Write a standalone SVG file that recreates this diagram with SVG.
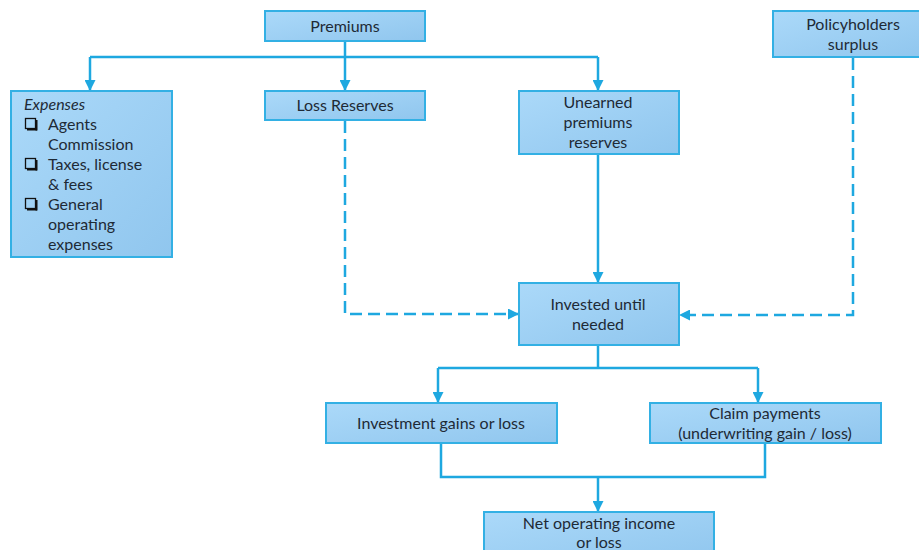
<svg xmlns="http://www.w3.org/2000/svg" width="919" height="550" viewBox="0 0 919 550">
<style>
.box{fill:url(#g);stroke:#33b0e4;stroke-width:2}
.t{font-family:Lato,"Open Sans",sans-serif;font-size:16px;fill:#1e2a36;text-anchor:middle}
.tl{font-family:Lato,"Open Sans",sans-serif;font-size:16px;fill:#1e2a36}
.c{fill:none;stroke:#1ea8e0;stroke-width:2.5}
.d{fill:none;stroke:#1ea8e0;stroke-width:2.5;stroke-dasharray:12 6}
</style>
<defs>
<linearGradient id="g" x1="0" y1="0" x2="1" y2="1">
<stop offset="0" stop-color="#abd9f9"/>
<stop offset="1" stop-color="#90c6ee"/>
</linearGradient>
<marker id="a" viewBox="0 0 10 10" refX="10" refY="5" markerWidth="4.4" markerHeight="4.4" orient="auto" markerUnits="strokeWidth">
<path d="M0,0 L10,5 L0,10 z" fill="#1ea8e0"/>
</marker>
</defs>
<g id="connectors">
<path class="c" d="M345,41 V57"/>
<path class="c" d="M90,57 H598"/>
<path class="c" d="M90,57 V91" marker-end="url(#a)"/>
<path class="c" d="M345,57 V91" marker-end="url(#a)"/>
<path class="c" d="M598,57 V91" marker-end="url(#a)"/>
<path class="d" d="M345,121 V314 H519" marker-end="url(#a)"/>
<path class="d" d="M853,58 V315 H679" marker-end="url(#a)"/>
<path class="c" d="M598,155 V283" marker-end="url(#a)"/>
<path class="c" d="M598,346 V368"/>
<path class="c" d="M438,368 H758"/>
<path class="c" d="M438,368 V403" marker-end="url(#a)"/>
<path class="c" d="M758,368 V403" marker-end="url(#a)"/>
<path class="c" d="M441,444 V477 H765 V444"/>
<path class="c" d="M598,477 V512" marker-end="url(#a)"/>
</g>
<g id="premiums">
<rect class="box" x="265" y="11" width="160" height="30"/>
<text class="t" x="345" y="32">Premiums</text>
</g>
<g id="expenses">
<rect class="box" x="11" y="91" width="161" height="166"/>
<text class="tl" x="24" y="110" font-style="italic">Expenses</text>
<g fill="none" stroke="#111" stroke-width="1.3">
<rect x="25.5" y="118.5" width="10" height="10"/>
<rect x="25.5" y="158.5" width="10" height="10"/>
<rect x="25.5" y="198.5" width="10" height="10"/>
</g>
<g fill="#111">
<rect x="27" y="128.5" width="10" height="2"/><rect x="35.5" y="120" width="2" height="10.5"/>
<rect x="27" y="168.5" width="10" height="2"/><rect x="35.5" y="160" width="2" height="10.5"/>
<rect x="27" y="208.5" width="10" height="2"/><rect x="35.5" y="200" width="2" height="10.5"/>
</g>
<text class="tl" x="48" y="130">Agents</text>
<text class="tl" x="48" y="150">Commission</text>
<text class="tl" x="48" y="170">Taxes, license</text>
<text class="tl" x="48" y="190">&amp; fees</text>
<text class="tl" x="48" y="210">General</text>
<text class="tl" x="48" y="230">operating</text>
<text class="tl" x="48" y="250">expenses</text>
</g>
<g id="loss-reserves">
<rect class="box" x="265" y="91" width="160" height="29"/>
<text class="t" x="345" y="111">Loss Reserves</text>
</g>
<g id="unearned">
<rect class="box" x="519" y="91" width="160" height="63"/>
<text class="t" x="598" y="108">Unearned</text>
<text class="t" x="598" y="128">premiums</text>
<text class="t" x="598" y="148">reserves</text>
</g>
<g id="policyholders">
<rect class="box" x="773" y="11" width="150" height="46"/>
<text class="t" x="853" y="30">Policyholders</text>
<text class="t" x="853" y="50">surplus</text>
</g>
<g id="invested">
<rect class="box" x="519" y="283" width="160" height="62"/>
<text class="t" x="598" y="310">Invested until</text>
<text class="t" x="598" y="330">needed</text>
</g>
<g id="investment">
<rect class="box" x="326" y="403" width="231" height="40"/>
<text class="t" x="441" y="429">Investment gains or loss</text>
</g>
<g id="claims">
<rect class="box" x="650" y="403" width="231" height="40"/>
<text class="t" x="765" y="419">Claim payments</text>
<text class="t" x="765" y="439">(underwriting gain / loss)</text>
</g>
<g id="net">
<rect class="box" x="484" y="512" width="230" height="50"/>
<text class="t" x="599" y="529">Net operating income</text>
<text class="t" x="599" y="548">or loss</text>
</g>
</svg>
